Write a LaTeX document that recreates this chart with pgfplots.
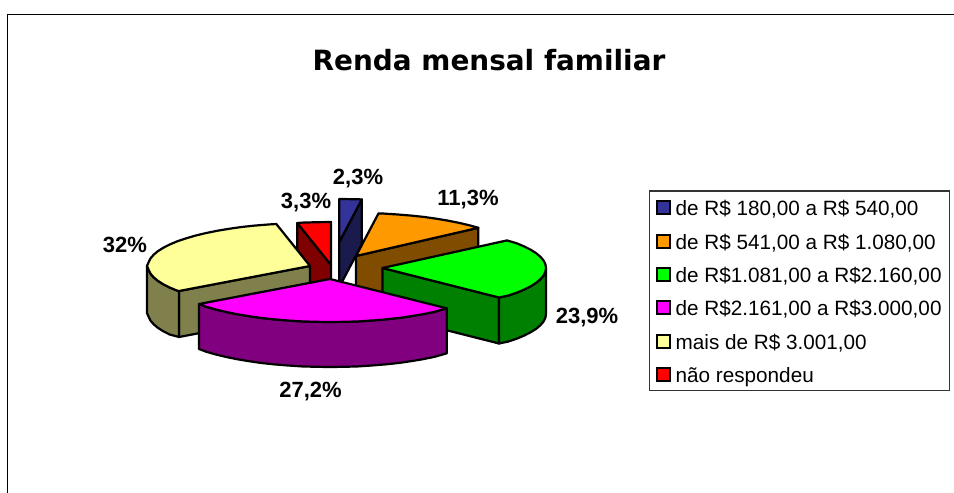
\documentclass[border=0pt]{standalone}
\usepackage{pgfplots}
\usepackage{pgfplotstable}
\usepackage{fontspec}
\setmainfont{Liberation Sans}
\newfontfamily\titlefont{DejaVu Sans}
\pgfplotsset{compat=1.18}
\definecolor{cNavy}{HTML}{333399}\definecolor{cNavyD}{HTML}{1A1A4D}
\definecolor{cOr}{HTML}{FF9900}\definecolor{cOrD}{HTML}{804D00}
\definecolor{cGr}{HTML}{00FF00}\definecolor{cGrD}{HTML}{008000}
\definecolor{cMa}{HTML}{FF00FF}\definecolor{cMaD}{HTML}{800080}
\definecolor{cYe}{HTML}{FFFF99}\definecolor{cYeD}{HTML}{80804D}
\definecolor{cRe}{HTML}{FF0000}\definecolor{cReD}{HTML}{800000}
% slice outlines, as offsets from each slice's apex
\pgfplotstableread[row sep=\\]{dx dy\\ 0 0\\ 0 -43\\ 14.1 -42.8\\ 22.5 -42.6\\}\tNavyTop
\pgfplotstableread[row sep=\\]{dx dy\\ 0 0\\ 22.5 -42.6\\ 22.5 2.4\\ 0 45\\}\tNavySide
\pgfplotstableread[row sep=\\]{dx dy\\ 0 0\\ 22.5 -42.6\\ 28.2 -42.4\\ 41.9 -41.5\\ 55.4 -40.4\\ 68.5 -39\\ 81 -37.2\\ 92.9 -35.2\\ 104.2 -32.9\\ 114.6 -30.4\\ 122.3 -28.2\\}\tOrTop
\pgfplotstableread[row sep=\\]{dx dy\\ 0 0\\ 122.3 -28.2\\ 122.3 17.8\\ 0 46\\}\tOrSide
\pgfplotstableread[row sep=\\]{dx dy\\ -1.5 0\\ 123 -27.6\\ 132.7 -24.7\\ 140.3 -21.5\\ 146.8 -18.2\\ 152.3 -14.7\\ 156.5 -11.1\\ 159.6 -7.5\\ 161.4 -3.7\\ 162 0\\ 161.4 3.7\\ 159.6 7.5\\ 156.5 11.1\\ 152.3 14.7\\ 146.8 18.2\\ 140.3 21.5\\ 132.7 24.7\\ 124.1 27.6\\ 115 29.5\\}\tGrTop
\pgfplotstableread[row sep=\\]{dx dy\\ -1.5 0\\ 115 29.5\\ 115 75.5\\ -1.5 46\\}\tGrSide
\pgfplotstableread[row sep=\\]{dx dy\\ 162 0\\ 161.4 3.7\\ 159.6 7.5\\ 156.5 11.1\\ 152.3 14.7\\ 146.8 18.2\\ 140.3 21.5\\ 132.7 24.7\\ 124.1 27.6\\ 115 29.5\\ 115 75.5\\ 124.1 73.6\\ 132.7 70.7\\ 140.3 67.5\\ 146.8 64.2\\ 152.3 60.7\\ 156.5 57.1\\ 159.6 53.5\\ 161.4 49.7\\ 162 46\\}\tGrWall
\pgfplotstableread[row sep=\\]{dx dy\\ 0 0\\ 116.8 29.3\\ 104.2 32.9\\ 92.9 35.2\\ 81 37.2\\ 68.5 39\\ 55.4 40.4\\ 41.9 41.5\\ 28.2 42.4\\ 14.1 42.8\\ 0 43\\ -14.1 42.8\\ -28.2 42.4\\ -41.9 41.5\\ -55.4 40.4\\ -68.5 39\\ -81 37.2\\ -92.9 35.2\\ -104.2 32.9\\ -114.6 30.4\\ -124.1 27.6\\ -131 25\\}\tMaTop
\pgfplotstableread[row sep=\\]{dx dy\\ 116.8 29.3\\ 104.2 32.9\\ 92.9 35.2\\ 81 37.2\\ 68.5 39\\ 55.4 40.4\\ 41.9 41.5\\ 28.2 42.4\\ 14.1 42.8\\ 0 43\\ -14.1 42.8\\ -28.2 42.4\\ -41.9 41.5\\ -55.4 40.4\\ -68.5 39\\ -81 37.2\\ -92.9 35.2\\ -104.2 32.9\\ -114.6 30.4\\ -124.1 27.6\\ -131 25\\ -131 70\\ -124.1 72.6\\ -114.6 75.4\\ -104.2 77.9\\ -92.9 80.2\\ -81 82.2\\ -68.5 84\\ -55.4 85.4\\ -41.9 86.5\\ -28.2 87.4\\ -14.1 87.8\\ 0 88\\ 14.1 87.8\\ 28.2 87.4\\ 41.9 86.5\\ 55.4 85.4\\ 68.5 84\\ 81 82.2\\ 92.9 80.2\\ 104.2 77.9\\ 116.8 74.3\\}\tMaWall
\pgfplotstableread[row sep=\\]{dx dy\\ 0 0\\ -131 25\\ -132.7 24.7\\ -140.3 21.5\\ -146.8 18.2\\ -152.3 14.7\\ -156.5 11.1\\ -159.6 7.5\\ -161.4 3.7\\ -163 0\\ -161.4 -3.7\\ -159.6 -7.5\\ -156.5 -11.1\\ -152.3 -14.7\\ -146.8 -18.2\\ -140.3 -21.5\\ -132.7 -24.7\\ -124.1 -27.6\\ -114.6 -30.4\\ -104.2 -32.9\\ -92.9 -35.2\\ -81 -37.2\\ -68.5 -39\\ -55.4 -40.4\\ -41.9 -41.5\\ -33.7 -42\\}\tYeTop
\pgfplotstableread[row sep=\\]{dx dy\\ 0 0\\ -131 25\\ -131 71\\ 0 46\\}\tYeSide
\pgfplotstableread[row sep=\\]{dx dy\\ -131 25\\ -140.3 21.5\\ -146.8 18.2\\ -152.3 14.7\\ -156.5 11.1\\ -159.6 7.5\\ -161.4 3.7\\ -163 0\\ -163 47\\ -161.4 50.7\\ -159.6 54.5\\ -156.5 58.1\\ -152.3 61.7\\ -146.8 65.2\\ -140.3 68.5\\ -131 71\\}\tYeWall
\pgfplotstableread[row sep=\\]{dx dy\\ 0 0\\ -33.7 -42\\ -28.2 -42.4\\ -14.1 -42.8\\ 0 -43\\}\tReTop
\pgfplotstableread[row sep=\\]{dx dy\\ 0 0\\ -33.7 -42\\ -33.7 4\\ 0 46\\}\tReSide
\newcommand\piece[4]{\addplot[draw=black,fill=#1,line width=2.2pt,line join=round] table[x expr=\thisrow{dx}+#2,y expr=\thisrow{dy}+#3] {#4} -- cycle;}
\newcommand\swatch[2]{\addplot[draw=black,fill=#1,line width=2pt,line join=miter] coordinates {(657,#2-7) (670,#2-7) (670,#2+6) (657,#2+6)} -- cycle;}
\begin{document}
\begin{tikzpicture}
\path[use as bounding box] (0,0) rectangle (954pt,493pt);
\begin{axis}[at={(0,0)},anchor=south west,hide axis,scale only axis,width=954pt,height=493pt,
  xmin=0,xmax=954,ymin=0,ymax=493,y dir=reverse,
  clip=true,
  every axis plot/.append style={forget plot}]
% chart frame
\addplot[draw=black,line width=1.4pt] coordinates {(7.5,493) (7.5,14.5) (954,14.5)};
% slices, back to front
\piece{cOrD}{356}{256}{\tOrSide}
\piece{cOr}{356}{256}{\tOrTop}
\piece{cNavyD}{339.3}{242}{\tNavySide}
\piece{cNavy}{339.3}{242}{\tNavyTop}
\piece{cReD}{331}{265}{\tReSide}
\piece{cRe}{331}{265}{\tReTop}
\piece{cYeD}{310}{266}{\tYeSide}
\piece{cYeD}{310}{266}{\tYeWall}
\piece{cYe}{310}{266}{\tYeTop}
\piece{cGrD}{384}{268}{\tGrSide}
\piece{cGrD}{384}{268}{\tGrWall}
\piece{cGr}{384}{268}{\tGrTop}
\piece{cMaD}{330}{279}{\tMaWall}
\piece{cMa}{330}{279}{\tMaTop}
% legend box
\addplot[draw=black!80,line width=1.2pt] coordinates {(649.5,191) (949.5,191) (949.5,390.5) (649.5,390.5)} -- cycle;
\swatch{cNavy}{208.3}
\swatch{cOr}{241.7}
\swatch{cGr}{275}
\swatch{cMa}{308.3}
\swatch{cYe}{341.7}
\swatch{cRe}{375}
\def\lg{\fontsize{20.7}{22}\selectfont}
\node[anchor=base west,inner sep=0pt] at (axis cs:675.5,215.5) {\lg de R\$ 180,00 a R\$ 540,00};
\node[anchor=base west,inner sep=0pt] at (axis cs:675.5,249) {\lg de R\$ 541,00 a R\$ 1.080,00};
\node[anchor=base west,inner sep=0pt] at (axis cs:675.5,282.3) {\lg de R\$1.081,00 a R\$2.160,00};
\node[anchor=base west,inner sep=0pt] at (axis cs:675.5,315.6) {\lg de R\$2.161,00 a R\$3.000,00};
\node[anchor=base west,inner sep=0pt] at (axis cs:675.5,349) {\lg mais de R\$ 3.001,00};
\node[anchor=base west,inner sep=0pt] at (axis cs:675.5,382.3) {\lg não respondeu};
% title and data labels
\node[anchor=base,inner sep=0pt] at (axis cs:489,70) {\titlefont\bfseries\fontsize{27.9}{29}\selectfont Renda mensal familiar};
\def\lb{\bfseries\fontsize{22}{23}\selectfont}
\node[anchor=base,inner sep=0pt] at (axis cs:358,184) {\lb 2,3\%};
\node[anchor=base,inner sep=0pt] at (axis cs:468,205) {\lb 11,3\%};
\node[anchor=base,inner sep=0pt] at (axis cs:306,208) {\lb 3,3\%};
\node[anchor=base,inner sep=0pt] at (axis cs:125,252) {\lb 32\%};
\node[anchor=base,inner sep=0pt] at (axis cs:587,323) {\lb 23,9\%};
\node[anchor=base,inner sep=0pt] at (axis cs:310.5,397) {\lb 27,2\%};
\end{axis}
\end{tikzpicture}
\end{document}
